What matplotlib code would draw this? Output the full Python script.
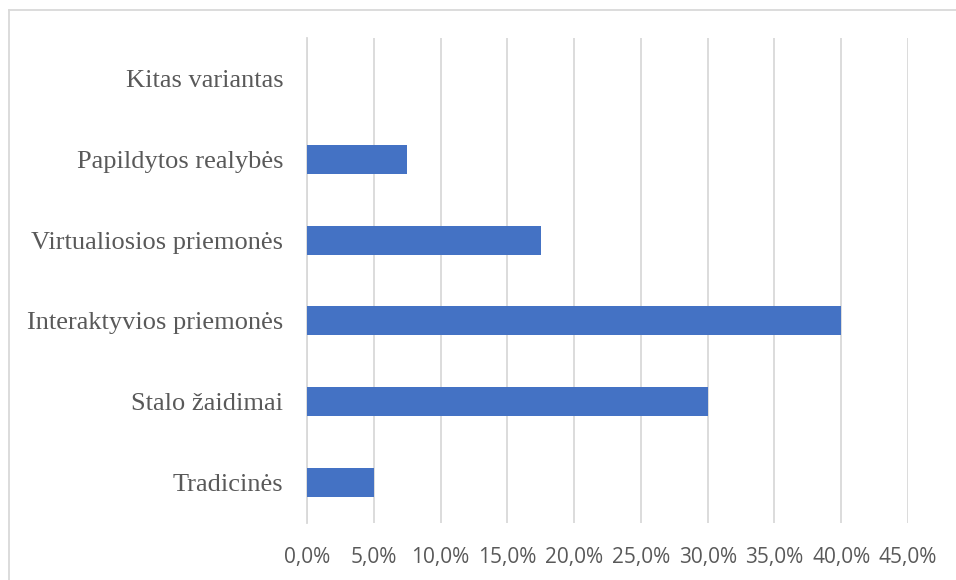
import matplotlib.pyplot as plt
from matplotlib.lines import Line2D
from matplotlib.ticker import FuncFormatter

categories = ["Tradicinės", "Stalo žaidimai", "Interaktyvios priemonės",
              "Virtualiosios priemonės", "Papildytos realybės", "Kitas variantas"]
values = [5.0, 30.0, 40.0, 17.5, 7.5, 0.0]
xticks = [0, 5, 10, 15, 20, 25, 30, 35, 40, 45]

W, H = 956, 580
fig = plt.figure(figsize=(W / 100, H / 100), dpi=100)
ax = fig.add_axes([307 / W, (H - 523) / H, (908 - 307) / W, (523 - 38) / H])

ypos = range(len(categories))
ax.barh(ypos, values, height=0.36, color="#4472C4", zorder=3)

ax.set_xlim(0, 45)
ax.set_ylim(-0.5, len(categories) - 0.5)
ax.set_xticks(xticks)
ax.xaxis.set_major_formatter(FuncFormatter(lambda v, p: f"{v:.1f}%".replace(".", ",")))
ax.set_yticks(list(ypos))
ax.set_yticklabels(categories, family="Liberation Serif", fontsize=19, color="#595959")
for lbl in ax.get_xticklabels():
    lbl.set_family("Open Sans")
    lbl.set_fontsize(15)
    lbl.set_color("#595959")

ax.grid(axis="x", color="#d9d9d9", linewidth=1.3, zorder=0)
ax.tick_params(length=0)
ax.tick_params(axis="y", pad=17)
ax.tick_params(axis="x", pad=17)
for s in ["top", "right", "bottom"]:
    ax.spines[s].set_visible(False)
ax.spines["left"].set_color("#d9d9d9")
ax.spines["left"].set_linewidth(1.3)

# outer chart border
fig.add_artist(Line2D([9 / W, 9 / W], [0, 1 - 10 / H], color="#d9d9d9", lw=1.3))
fig.add_artist(Line2D([9 / W, 1], [1 - 10 / H, 1 - 10 / H], color="#d9d9d9", lw=1.3))

fig.savefig("out.png", dpi=100)
